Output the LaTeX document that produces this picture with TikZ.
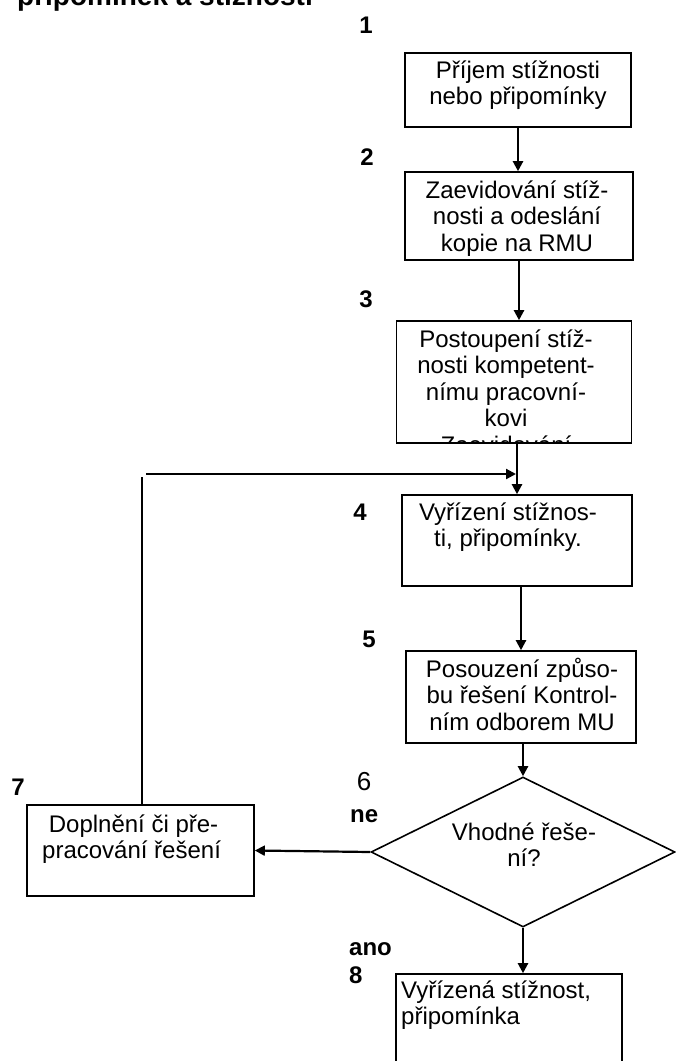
\documentclass[tikz,border=0pt]{standalone}
\usepackage{fontspec}
\setmainfont{Liberation Sans}
\usetikzlibrary{shapes.geometric,arrows.meta}
\newcommand{\boxfont}{\fontsize{24}{26.5}\selectfont}
\newcommand{\titlefont}{\fontsize{28}{32}\selectfont\bfseries}

\begin{document}
\begin{tikzpicture}[x=1pt,y=-1pt,
  box/.style={draw, line width=1.6pt, inner sep=0pt},
  boxtext/.style={font=\boxfont, align=center, inner sep=0pt, anchor=base},
  lefttext/.style={font=\boxfont, align=left, inner sep=0pt, anchor=base west},
  num/.style={font=\boxfont\bfseries, inner sep=0pt, anchor=base},
  flow/.style={line width=2.2pt, -{Triangle[length=10pt,width=10pt]}},
  back/.style={line width=1.4pt}]
  \useasboundingbox (0,0) rectangle (676,1061);
  % title, cut by the top edge
  \node[font=\titlefont, inner sep=0pt, anchor=base west] (title) at (17,5) {připomínek a stížností};

  % the boxes
  \node[box, minimum width=226pt, minimum height=74pt] (b1) at (518,90) {};
  \node[box, minimum width=228pt, minimum height=88pt] (b2) at (519,216) {};
  \node[box, minimum width=235pt, minimum height=122pt] (b3) at (514,382) {};
  \node[box, minimum width=230pt, minimum height=91pt] (b4) at (517,540.5) {};
  \node[box, minimum width=230pt, minimum height=92pt] (b5) at (521,697) {};
  \node[draw, diamond, line width=1.6pt, inner sep=0pt,
        minimum width=304pt, minimum height=150pt] (d6) at (523,852) {};
  \node[box, minimum width=227pt, minimum height=91pt] (b7) at (140.5,850.5) {};
  \node[box, minimum width=226pt, minimum height=100pt] (b8) at (509,1024) {};

  % texts in the boxes (placed at the baseline of the last line)
  \node[boxtext] (t1) at (518,104.5) {Příjem stížnosti\\nebo připomínky};
  \node[boxtext] (t2) at (517,251) {Zaevidování stíž-\\nosti a odeslání\\kopie na RMU};
  \begin{scope}
    \clip (b3.south west) rectangle (b3.north east);
    \node[boxtext] (t3) at (506,453) {Postoupení stíž-\\nosti kompetent-\\nímu pracovní-\\kovi\\Zaevidování};
  \end{scope}
  \node[boxtext] (t4) at (508,546.5) {Vyřízení stížnos-\\ti, připomínky.};
  \node[boxtext] (t5) at (522,730) {Posouzení způso-\\bu řešení Kontrol-\\ním odborem MU};
  \node[boxtext] (t6) at (524,866.5) {Vhodné řeše-\\ní?};
  \node[lefttext] (t7) at (42,858.5) {\ Doplnění či pře-\\pracování řešení};
  \node[lefttext] (t8) at (401,1024.5) {Vyřízená stížnost,\\připomínka};

  % step numbers
  \node[num] (n1) at (366,33) {1};
  \node[num] (n2) at (367,165) {2};
  \node[num] (n3) at (366,307) {3};
  \node[num] (n4) at (360,520) {4};
  \node[num] (n5) at (369,647) {5};
  \node[font=\fontsize{26}{30}\selectfont, inner sep=0pt, anchor=base] (n6) at (364,790) {6};
  \node[num, anchor=base west] (ne) at (350,822) {ne};
  \node[num] (n7) at (18,795) {7};
  \node[num, anchor=base west] (ano) at (349,955) {ano};
  \node[num, anchor=base west] (n8) at (349,983) {8};

  % connectors
  \draw[flow] (b1.south) -- (b1.south |- b2.north);
  \draw[flow] (b2.south) -- (b2.south |- b3.north);
  \draw[flow] (b4.north |- b3.south) -- (b4.north);
  \draw[flow] (b5.north |- b4.south) -- (b5.north);
  \draw[flow] (d6.north |- b5.south) -- (d6.north);
  \draw[flow] (d6.west) -- (b7.east);
  \draw[flow] (d6.south) -- (d6.south |- b8.north);

  % back from 7 to 4
  \coordinate (up7) at (142,477);
  \coordinate (left4) at (146,474);
  \coordinate (in4) at (516,474);
  \draw[back] (b7.north -| up7) -- (up7);
  \draw[flow] (left4) -- (in4);
\end{tikzpicture}
\end{document}
